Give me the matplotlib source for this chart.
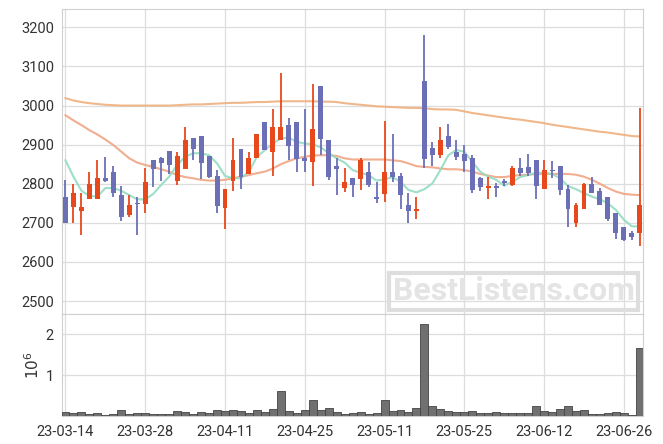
import matplotlib
matplotlib.use("Agg")
import matplotlib.pyplot as plt
import numpy as np

# daily candles, 73 trading days starting 23-03-14
opens = [2766, 2740, 2729, 2761, 2761, 2815, 2830, 2771, 2719, 2751,
         2749, 2860, 2866, 2885, 2808, 2838, 2917, 2922, 2871, 2820,
         2739, 2808, 2890, 2824, 2865, 2959, 2880, 2911, 2949, 2959,
         2865, 2855, 3051, 2911, 2845, 2790, 2814, 2813, 2830, 2766,
         2775, 2830, 2820, 2746, 2729, 3064, 2891, 2874, 2922, 2881,
         2876, 2866, 2814, 2792, 2795, 2807, 2798, 2839, 2844, 2861,
         2786, 2836, 2845, 2787, 2700, 2735, 2800, 2782, 2766, 2726,
         2690, 2674, 2674]
highs = [2810, 2799, 2776, 2829, 2860, 2869, 2845, 2794, 2770, 2767,
         2839, 2860, 2869, 2885, 2880, 2944, 2917, 2922, 2871, 2835,
         2787, 2916, 2890, 2880, 2926, 2959, 2990, 3083, 2969, 2959,
         2990, 3056, 3051, 2911, 2865, 2839, 2814, 2866, 2855, 2804,
         2960, 2926, 2828, 2776, 2766, 3181, 2906, 2944, 2954, 2911,
         2900, 2873, 2818, 2818, 2801, 2811, 2845, 2865, 2875, 2861,
         2861, 2859, 2845, 2797, 2750, 2803, 2818, 2789, 2766, 2726,
         2690, 2678, 2995]
lows = [2700, 2700, 2670, 2761, 2761, 2805, 2766, 2704, 2715, 2669,
        2725, 2791, 2808, 2825, 2798, 2838, 2860, 2813, 2814, 2725,
        2685, 2782, 2787, 2824, 2865, 2886, 2820, 2911, 2861, 2830,
        2830, 2793, 2873, 2810, 2771, 2780, 2767, 2784, 2791, 2750,
        2754, 2805, 2735, 2700, 2710, 2839, 2845, 2865, 2890, 2861,
        2829, 2776, 2781, 2761, 2766, 2794, 2794, 2820, 2820, 2760,
        2786, 2814, 2771, 2689, 2689, 2735, 2776, 2745, 2704, 2659,
        2653, 2657, 2642]
closes = [2700, 2776, 2741, 2800, 2815, 2808, 2776, 2714, 2745, 2749,
          2805, 2838, 2854, 2849, 2871, 2911, 2889, 2854, 2818, 2744,
          2787, 2861, 2818, 2865, 2926, 2886, 2945, 2945, 2896, 2863,
          2859, 2939, 2914, 2818, 2838, 2805, 2798, 2861, 2798, 2760,
          2830, 2818, 2770, 2729, 2735, 2864, 2874, 2911, 2894, 2869,
          2859, 2785, 2791, 2795, 2792, 2805, 2840, 2828, 2828, 2793,
          2835, 2834, 2784, 2735, 2746, 2800, 2776, 2745, 2710, 2674,
          2657, 2664, 2746]
# volume in millions
volumes = [0.114, 0.089, 0.114, 0.065, 0.089, 0.041, 0.065, 0.163, 0.065, 0.089,
           0.089, 0.065, 0.065, 0.065, 0.138, 0.114, 0.065, 0.114, 0.089, 0.163,
           0.138, 0.163, 0.138, 0.089, 0.163, 0.114, 0.187, 0.61, 0.138, 0.089,
           0.163, 0.41, 0.163, 0.211, 0.114, 0.065, 0.089, 0.114, 0.065, 0.089,
           0.41, 0.138, 0.163, 0.114, 0.211, 2.26, 0.26, 0.187, 0.138, 0.114,
           0.114, 0.138, 0.089, 0.089, 0.114, 0.089, 0.089, 0.089, 0.089, 0.26,
           0.138, 0.114, 0.187, 0.26, 0.138, 0.163, 0.065, 0.065, 0.089, 0.114,
           0.089, 0.041, 1.67]
ma5 = [2860, 2818, 2782, 2769, 2767, 2789, 2789, 2782, 2771, 2760,
       2760, 2774, 2797, 2818, 2848, 2869, 2878, 2878, 2873, 2852,
       2820, 2814, 2814, 2831, 2869, 2886, 2903, 2916, 2918, 2907,
       2903, 2901, 2893, 2878, 2865, 2854, 2835, 2828, 2822, 2808,
       2811, 2817, 2805, 2784, 2778, 2786, 2801, 2835, 2873, 2886,
       2882, 2856, 2831, 2818, 2810, 2795, 2805, 2817, 2822, 2828,
       2828, 2825, 2814, 2794, 2786, 2776, 2767, 2760, 2750, 2733,
       2708, 2691, 2691]
ma20 = [2975, 2962, 2950, 2937, 2926, 2913, 2899, 2882, 2865, 2854,
        2848, 2843, 2837, 2831, 2822, 2817, 2814, 2810, 2808, 2808,
        2810, 2814, 2818, 2822, 2827, 2831, 2839, 2850, 2858, 2865,
        2869, 2872, 2873, 2873, 2871, 2865, 2862, 2862, 2862, 2862,
        2862, 2860, 2858, 2852, 2845, 2843, 2842, 2839, 2837, 2837,
        2835, 2831, 2825, 2821, 2817, 2817, 2820, 2822, 2823, 2825,
        2825, 2825, 2825, 2825, 2823, 2818, 2810, 2800, 2789, 2780,
        2774, 2772, 2771]
ma60 = [3019, 3013, 3009, 3006, 3004, 3002, 3001, 3000, 3000, 3000,
        3000, 3000, 3000, 3000, 3001, 3002, 3003, 3003, 3004, 3005,
        3006, 3007, 3007, 3008, 3009, 3009, 3010, 3011, 3011, 3011,
        3011, 3011, 3010, 3010, 3009, 3006, 3004, 3002, 3000, 2998,
        2997, 2996, 2995, 2994, 2994, 2993, 2991, 2990, 2990, 2989,
        2985, 2981, 2978, 2975, 2972, 2969, 2966, 2964, 2961, 2958,
        2955, 2951, 2948, 2945, 2942, 2939, 2936, 2933, 2931, 2928,
        2925, 2922, 2921]
tick_pos = [0, 10, 20, 30, 40, 50, 60, 70]
tick_labels = ['23-03-14', '23-03-28', '23-04-11', '23-04-25',
               '23-05-11', '23-05-25', '23-06-12', '23-06-26']

UP = '#e8491c'
DOWN = '#6b70b6'
GRID = '#dddddd'
TXT = '#333333'

plt.rcParams['font.family'] = ['Roboto', 'DejaVu Sans']

fig = plt.figure(figsize=(6.63, 4.44), dpi=100)
W, H = 663, 444
left, right = 62.3, 643
top, mid, bottom = 9, 314.3, 416.3
ax = fig.add_axes([left / W, (H - mid) / H, (right - left) / W, (mid - top) / H])
axv = fig.add_axes([left / W, (H - bottom) / H, (right - left) / W, (bottom - mid) / H],
                   sharex=ax)

x = np.arange(len(opens))
o = np.array(opens); c = np.array(closes)
colors = [UP if cc >= oo else DOWN for oo, cc in zip(o, c)]

# wicks then bodies
ax.vlines(x, lows, highs, colors=colors, linewidth=1.3, zorder=3)
body = np.maximum(np.abs(c - o), 4)
base = np.minimum(o, c) - np.where(np.abs(c - o) < 4, 2, 0)
ax.bar(x, body, bottom=base, width=0.62, color=colors, zorder=4)

ax.plot(x, ma60, color='#efb07f', lw=1.5, alpha=0.9, zorder=2)
ax.plot(x, ma20, color='#f0a584', lw=1.5, alpha=0.9, zorder=2)
ax.plot(x, ma5, color='#93dcc2', lw=1.5, alpha=0.9, zorder=2)

ax.set_ylim(2466, 3247)
ax.set_yticks(range(2500, 3201, 100))
ax.set_xlim(-0.4, 72.4)

ax.text(0.777, 0.075, 'BestListens.com', transform=ax.transAxes, ha='center', va='center',
        fontsize=23, fontweight='bold', color='#e4e4e4', zorder=1,
        bbox=dict(boxstyle='square,pad=0.12', facecolor='none', edgecolor='#dedede', linewidth=3))

axv.bar(x, volumes, width=1.0, color='#707070', edgecolor='#444444', linewidth=0.6, zorder=3)
axv.set_ylim(0, 2.49)
axv.set_yticks([1, 2])
axv.set_ylabel(r'$10^6$', fontsize=11, color=TXT, labelpad=3)
axv.set_xticks(tick_pos)
axv.set_xticklabels(tick_labels)

for a in (ax, axv):
    a.grid(True, color=GRID, linewidth=0.9, zorder=0)
    a.set_axisbelow(True)
    a.tick_params(length=0, labelsize=10.5, labelcolor=TXT, pad=6)
    for s in a.spines.values():
        s.set_color('#d0d0d0')
plt.setp(ax.get_xticklabels(), visible=False)

fig.savefig('out.png', dpi=100)
